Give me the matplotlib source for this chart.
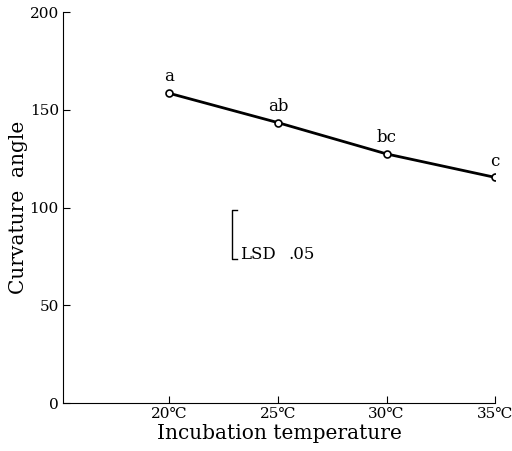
import matplotlib.pyplot as plt

plt.rcParams['font.family'] = ['DejaVu Serif', 'DejaVu Sans']

# data
temps = [20, 25, 30, 35]
angles = [158.5, 143.5, 127.5, 115.5]
groups = ['a', 'ab', 'bc', 'c']
tick_labels = ['20℃', '25℃', '30℃', '35℃']
lsd_x = 22.9
lsd_lo, lsd_hi = 74, 99

fig = plt.figure(figsize=(5.12, 4.51), dpi=100)
ax = fig.add_axes([0.123, 0.106, 0.844, 0.867])

ax.plot(temps, angles, color='black', lw=2, marker='o', ms=5,
        mfc='white', mec='black', mew=1.2, zorder=3)
for x, y, g in zip(temps, angles, groups):
    ax.text(x, y + 4, g, ha='center', va='bottom', fontsize=12)

# LSD bar
ax.plot([lsd_x + 0.2, lsd_x, lsd_x, lsd_x + 0.2],
        [lsd_hi, lsd_hi, lsd_lo, lsd_lo], color='black', lw=1)
ax.text(lsd_x + 0.35, lsd_lo, 'LSD', fontsize=12, va='baseline')
ax.text(lsd_x + 2.6, lsd_lo, '.05', fontsize=12, va='baseline')

ax.set_xlim(15.1, 35)
ax.set_ylim(0, 200)
ax.set_xticks(temps)
ax.set_xticklabels(tick_labels)
ax.set_yticks([0, 50, 100, 150, 200])
ax.tick_params(direction='in', length=5, labelsize=11, pad=3)
ax.spines['top'].set_visible(False)
ax.spines['right'].set_visible(False)
ax.set_xlabel('Incubation temperature', fontsize=14.5, labelpad=2)
ax.set_ylabel('Curvature  angle', fontsize=14.5, labelpad=1)

fig.savefig('out.png', dpi=100)
